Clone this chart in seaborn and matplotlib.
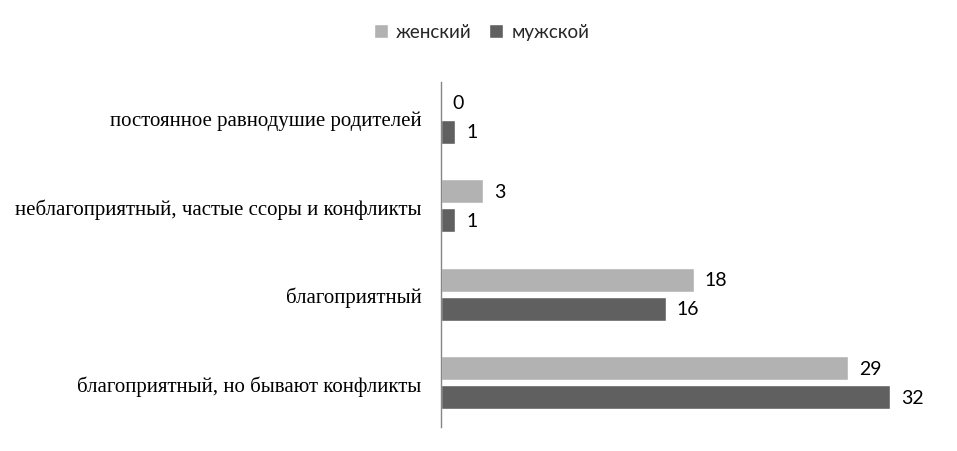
import pandas as pd
import seaborn as sns
import matplotlib.pyplot as plt

categories = ["постоянное равнодушие родителей",
              "неблагоприятный, частые ссоры и конфликты",
              "благоприятный",
              "благоприятный, но бывают конфликты"]
female = [0, 3, 18, 29]
male = [1, 1, 16, 32]
series = ["женский", "мужской"]
colors = ["#b2b2b2", "#606060"]

df = pd.DataFrame({
    "category": categories * 2,
    "value": female + male,
    "sex": [series[0]] * len(categories) + [series[1]] * len(categories),
})

sns.set_style("white")
plt.rcParams["font.family"] = ["Lato", "DejaVu Sans"]

fig = plt.figure(figsize=(9.57, 4.52), dpi=100)
ax = fig.add_axes([441 / 957, 24 / 452, 459 / 957, 345 / 452])

sns.barplot(data=df, y="category", x="value", hue="sex", orient="h",
            palette=colors, width=0.66, gap=0.18, saturation=1,
            order=categories, hue_order=series, ax=ax)

ax.set_xlim(0, 32 * 459 / 449)
ax.set_ylim(3.5, -0.4)
ax.set_xticks([])
ax.set_xlabel("")
ax.set_ylabel("")
ax.tick_params(axis="y", length=0, pad=14)
for lab in ax.get_yticklabels():
    lab.set_fontfamily("Liberation Serif")
    lab.set_fontsize(15)
    lab.set_color("black")

for side in ["top", "right", "bottom"]:
    ax.spines[side].set_visible(False)
ax.spines["left"].set_color("#868686")
ax.spines["left"].set_linewidth(1)

for cont in ax.containers:
    ax.bar_label(cont, padding=8, fontsize=14, color="black")

handles, labels = ax.get_legend_handles_labels()
ax.legend_.remove()
fig.legend(handles, labels, loc="center", bbox_to_anchor=(0.503, 0.927),
           ncol=2, frameon=False, fontsize=13.5, handlelength=0.75,
           handleheight=0.75, handletextpad=0.45, columnspacing=0.9)

fig.savefig("out.png", dpi=100)
